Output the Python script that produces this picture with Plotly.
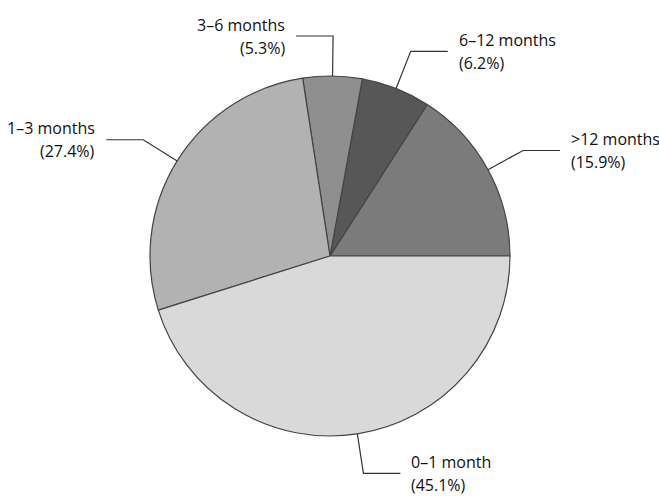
import math
import plotly.graph_objects as go

# ---- data ----
categories = [">12 months", "6–12 months", "3–6 months", "1–3 months", "0–1 month"]
percentages = [15.9, 6.2, 5.3, 27.4, 45.1]
pct_labels = ["(15.9%)", "(6.2%)", "(5.3%)", "(27.4%)", "(45.1%)"]

# ---- style ----
colors = ["#7b7b7b", "#575757", "#8f8f8f", "#b2b2b2", "#d9d9d9"]
W, H = 659, 501
CX, CY, R = 330, 256, 180          # pie centre / radius in pixels
ELBOW_R = 220                       # radius of leader elbow
HSEG = 37                           # horizontal leader length
TEXT_GAP = 9
FONT = dict(family="Open Sans, Lato, sans-serif", size=16, color="#111111")

def px2paper(x, y):
    return x / W, 1 - y / H

total = sum(percentages)
first_span = 360.0 * percentages[0] / total

fig = go.Figure()
fig.add_trace(go.Pie(
    labels=categories,
    values=percentages,
    sort=False,
    direction="counterclockwise",
    rotation=90 - first_span,
    marker=dict(colors=colors, line=dict(color="#444444", width=1.2)),
    textinfo="none",
    hoverinfo="skip",
    showlegend=False,
    domain=dict(x=[(CX - R) / W, (CX + R) / W], y=[1 - (CY + R) / H, 1 - (CY - R) / H]),
))

shapes = []
annotations = []
start = 0.0
for cat, val, pl in zip(categories, percentages, pct_labels):
    span = 360.0 * val / total
    mid = math.radians(start + span / 2)
    start += span
    c, s = math.cos(mid), math.sin(mid)
    x0, y0 = CX + R * c, CY - R * s
    x1, y1 = CX + ELBOW_R * c, CY - ELBOW_R * s
    side = 1 if c > 0.05 else -1
    x2 = x1 + side * HSEG
    p0, p1, p2 = px2paper(x0, y0), px2paper(x1, y1), px2paper(x2, y1)
    shapes.append(dict(
        type="path", xref="paper", yref="paper",
        path=f"M {p0[0]},{p0[1]} L {p1[0]},{p1[1]} L {p2[0]},{p2[1]}",
        line=dict(color="#333333", width=1.2),
    ))
    tx = x2 + side * TEXT_GAP
    for dy, txt in ((-11.5, cat), (11.5, pl)):
        ax, ay = px2paper(tx, y1 + dy)
        annotations.append(dict(
            x=ax, y=ay, xref="paper", yref="paper", text=txt, showarrow=False,
            xanchor="left" if side > 0 else "right", yanchor="middle",
            font=FONT,
        ))

fig.update_layout(
    width=W, height=H,
    margin=dict(l=0, r=0, t=0, b=0),
    paper_bgcolor="white", plot_bgcolor="white",
    shapes=shapes, annotations=annotations,
)
fig.write_html("out.html", config={"displayModeBar": False},
               post_script="document.body.style.margin='0px';document.body.style.overflow='hidden';")
